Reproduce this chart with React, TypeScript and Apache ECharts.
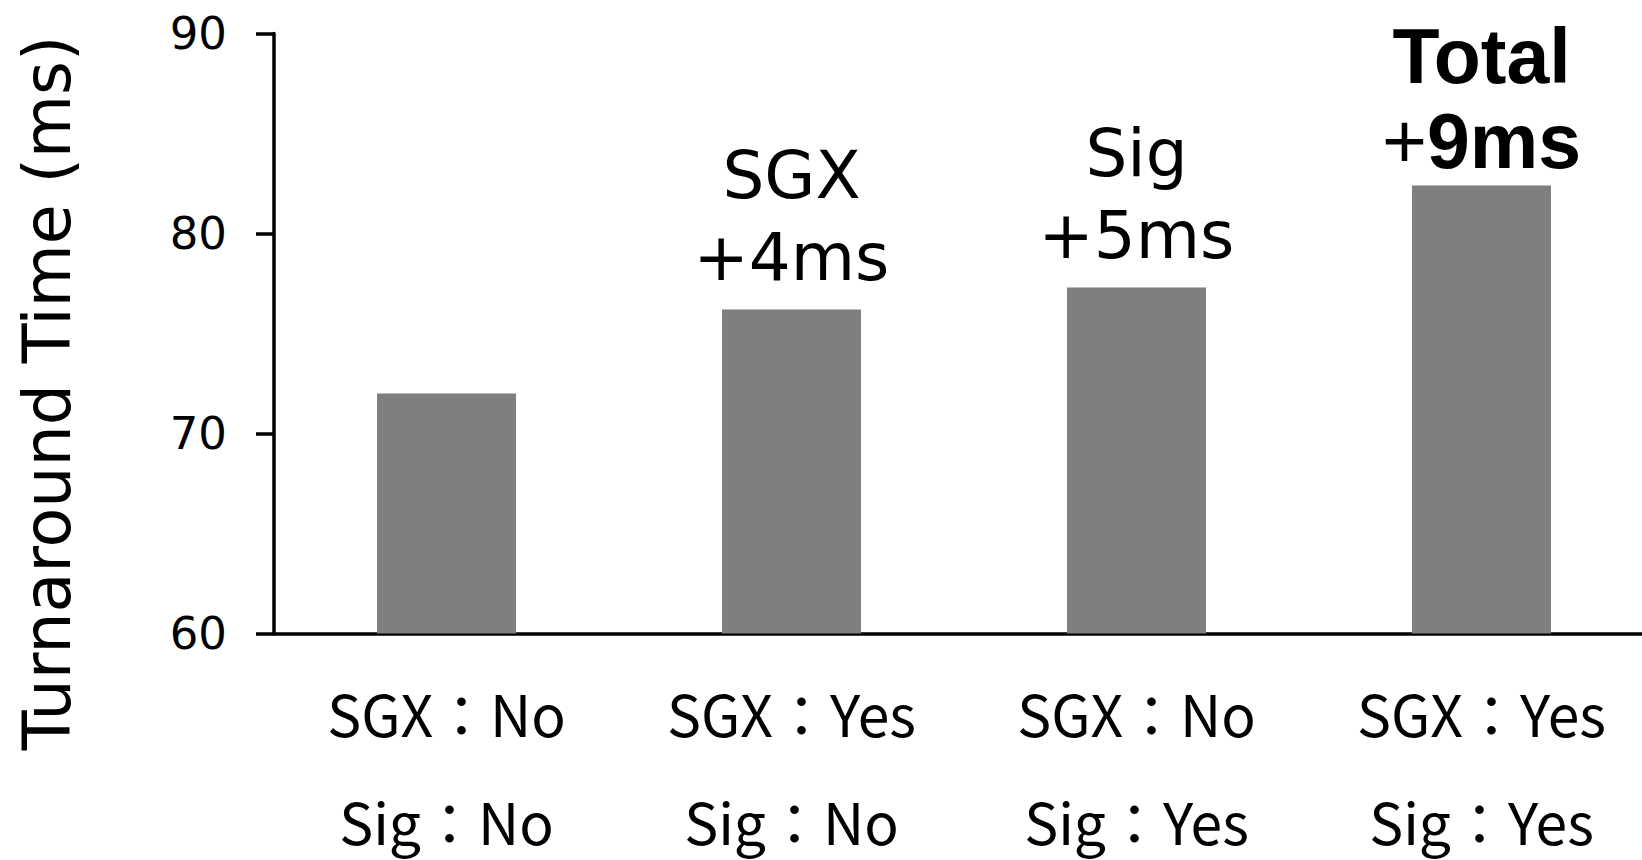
import React, { useEffect, useRef } from "react";
import * as echarts from "echarts";

const sgxLabels = ["SGX：No", "SGX：Yes", "SGX：No", "SGX：Yes"];
const sigLabels = ["Sig：No", "Sig：No", "Sig：Yes", "Sig：Yes"];
const turnaround = [72.0, 76.2, 77.3, 82.4];
const annotations = ["", "SGX\n+4ms", "Sig\n+5ms", "{b|Total}\n{p|+}{b|9ms}"];
const yTicks = { min: 60, max: 90, interval: 10 };
const yAxisName = "Turnaround Time (ms)";

const FONT = "'Noto Sans CJK JP', 'Noto Sans', sans-serif";
const WIDE = "'DejaVu Sans', sans-serif";
const BOLD = "'Liberation Sans', Arial, sans-serif";

export default function App() {
  const ref = useRef<HTMLDivElement>(null);
  useEffect(() => {
    if (!ref.current) return;
    const chart = echarts.init(ref.current, undefined, { renderer: "svg" });
    chart.setOption({
      animation: false,
      backgroundColor: "#ffffff",
      textStyle: { fontFamily: FONT },
      grid: {
        left: 274,
        right: -12,
        top: 33.5,
        bottom: 226.5,
        containLabel: false,
        outerBoundsMode: "none",
      },
      graphic: [
        {
          type: "text",
          x: 47,
          y: 393,
          rotation: Math.PI / 2,
          style: {
            text: yAxisName,
            fill: "#000",
            fontSize: 65,
            fontFamily: WIDE,
            textAlign: "center",
            textVerticalAlign: "middle",
          },
        },
      ],
      xAxis: [
        {
          type: "category",
          data: sgxLabels,
          position: "bottom",
          axisLine: { show: true, lineStyle: { color: "#000", width: 3.5 } },
          axisTick: { show: false },
          axisLabel: { color: "#000", fontSize: 57, margin: 50, fontFamily: FONT },
        },
        {
          type: "category",
          data: sigLabels,
          position: "bottom",
          axisLine: { show: false },
          axisTick: { show: false },
          axisLabel: { color: "#000", fontSize: 57, margin: 158, fontFamily: FONT },
        },
      ],
      yAxis: {
        type: "value",
        min: yTicks.min,
        max: yTicks.max,
        interval: yTicks.interval,
        splitLine: { show: false },
        axisLine: { show: true, lineStyle: { color: "#000", width: 3.5 } },
        axisTick: { show: true, inside: false, length: 18, lineStyle: { color: "#000", width: 3.5 } },
        axisLabel: { color: "#000", fontSize: 45, margin: 47, fontFamily: WIDE },
      },
      series: [
        {
          type: "bar",
          xAxisIndex: 0,
          data: turnaround.map((v, i) => ({
            value: v,
            label: {
              show: annotations[i] !== "",
              formatter: annotations[i],
              distance: i === 3 ? 2 : 11,
            },
          })),
          barWidth: 139,
          itemStyle: { color: "#7f7f7f" },
          label: {
            show: true,
            position: "top",
            color: "#000",
            fontSize: 66,
            lineHeight: 82,
            fontFamily: WIDE,
            align: "center",
            rich: {
              b: { fontSize: 77, fontWeight: "bold", lineHeight: 85, color: "#000", fontFamily: BOLD },
              p: { fontSize: 77, fontWeight: "normal", lineHeight: 85, color: "#000", fontFamily: BOLD },
            },
          },
        },
      ],
    });
    return () => chart.dispose();
  }, []);
  return (
    <div
      ref={ref}
      style={{ position: "absolute", left: 0, top: 0, width: 1642, height: 860 }}
    />
  );
}
